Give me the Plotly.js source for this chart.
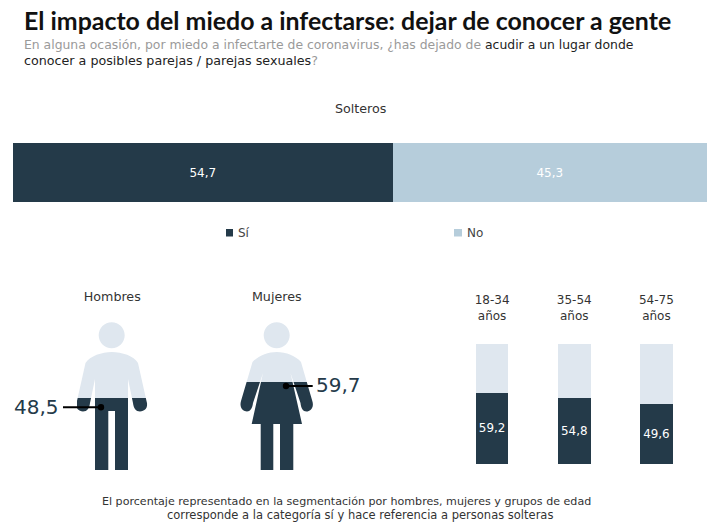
<!DOCTYPE html>
<html><head><meta charset="utf-8">
<script src="https://cdn.plot.ly/plotly-3.0.1.min.js"></script>
<style>html,body{margin:0;padding:0;background:#fff}</style></head>
<body><div id="chart" style="width:720px;height:528px"></div>
<script>
const groupMain = ['Solteros'];
const siMain = [54.7];
const noMain = [45.3];
const genders = ['Hombres', 'Mujeres'];
const siGender = [48.5, 59.7];
const ages = ['18-34<br>años', '35-54<br>años', '54-75<br>años'];
const siAges = [59.2, 54.8, 49.6];
const DARK = '#243a49', MID = '#b6cddb', PALE = '#dfe7ef', W = 720, H = 528;
const sans = '"DejaVu Sans", sans-serif', head = 'Lato, sans-serif';
const fmt = v => v.toFixed(1).replace('.', ',');
const rest = a => a.map(v => +(100 - v).toFixed(1));
const px = x => x / W, py = y => 1 - y / H;
const dx = (a, b) => [px(a), px(b)], dy = (top, bot) => [py(bot), py(top)];

// convert a silhouette written in picture pixels into paper coordinates
const P = s => s.replace(/(-?[\d.]+),(-?[\d.]+)/g, (m, a, b) => px(+a).toFixed(5) + ',' + py(+b).toFixed(5));
const circle = (c, y, r) => { const k = r * 0.5523;
  return `M ${c-r},${y} C ${c-r},${y-k} ${c-k},${y-r} ${c},${y-r} C ${c+k},${y-r} ${c+r},${y-k} ${c+r},${y} C ${c+r},${y+k} ${c+k},${y+r} ${c},${y+r} C ${c-k},${y+r} ${c-r},${y+k} ${c-r},${y} Z`; };
const frame = (l, t, r, b) => `M ${l},${t} L ${r},${t} L ${r},${b} L ${l},${b} Z`;
const man = 'M 85.5,363 C 90,356 102,352 111.7,352 C 122,352 134,356 138,363 L 146.5,401 C 149,408 144,411.5 140,411.5 C 136,411.5 133.5,408 133,403 L 128,379 L 128,473 L 115,473 L 115,411 L 108.3,411 L 108.3,473 L 95,473 L 95,379 L 90,403 C 89.5,408 87,411.5 83,411.5 C 79,411.5 74.5,408 77,401 Z';
const woman = 'M 252.5,362 C 258,356 268,352 276.7,352 C 286,352 296,356 301,362 L 312.3,401 C 314.5,408 310,411.5 306.5,411.5 C 303,411.5 301,408 300.5,403 L 290.5,373 L 302,424 L 293.3,424 L 293.3,473 L 280,473 L 280,424 L 273.3,424 L 273.3,473 L 260.7,473 L 260.7,424 L 251.7,424 L 263,373 L 253,403 C 252.5,408 250,411.5 247,411.5 C 243.5,411.5 239,408 241,401 Z';
const mask = (d, l, t, r, b) => ({type:'path', xref:'paper', yref:'paper', layer:'above', fillrule:'evenodd',
  fillcolor:'#fff', line:{width:0}, path:P(frame(l,t,r,b) + ' ' + d)});
const seg = (x0, x1, y) => ({type:'line', xref:'paper', yref:'paper', layer:'above', x0:px(x0), x1:px(x1), y0:py(y), y1:py(y), line:{color:'#000', width:2}});
const dot = (x, y, r) => ({type:'circle', xref:'paper', yref:'paper', layer:'above', x0:px(x-r), x1:px(x+r), y0:py(y+r), y1:py(y-r), fillcolor:'#000', line:{width:0}});
const box = (l, t, r, b, c) => ({type:'rect', xref:'paper', yref:'paper', x0:px(l), x1:px(r), y0:py(b), y1:py(t), fillcolor:c, line:{width:0}});
const note = (text, x, y, size, color, family, anchor) => ({text, x:px(x), y:py(y), xref:'paper', yref:'paper', showarrow:false,
  xanchor:anchor || 'left', yanchor:'middle', align:anchor === 'center' ? 'center' : 'left', font:{size, color, family}});

const labelFont = {family:sans, size:12, color:'#fff'};
const traces = [
  {type:'bar', orientation:'h', name:'Sí', y:groupMain, x:siMain, xaxis:'x', yaxis:'y', marker:{color:DARK}, text:siMain.map(fmt), textposition:'inside', insidetextanchor:'middle', textfont:labelFont, textangle:0},
  {type:'bar', orientation:'h', name:'No', y:groupMain, x:noMain, xaxis:'x', yaxis:'y', marker:{color:MID}, text:noMain.map(fmt), textposition:'inside', insidetextanchor:'middle', textfont:labelFont, textangle:0},
  {type:'bar', x:[genders[0]], y:[siGender[0]], xaxis:'x2', yaxis:'y2', marker:{color:DARK}, width:1, hoverinfo:'skip'},
  {type:'bar', x:[genders[0]], y:rest(siGender).slice(0,1), xaxis:'x2', yaxis:'y2', marker:{color:PALE}, width:1, hoverinfo:'skip'},
  {type:'bar', x:[genders[1]], y:[siGender[1]], xaxis:'x3', yaxis:'y3', marker:{color:DARK}, width:1, hoverinfo:'skip'},
  {type:'bar', x:[genders[1]], y:rest(siGender).slice(1), xaxis:'x3', yaxis:'y3', marker:{color:PALE}, width:1, hoverinfo:'skip'},
  {type:'bar', x:ages, y:siAges, xaxis:'x4', yaxis:'y4', marker:{color:DARK}, width:0.396, text:siAges.map(fmt), textposition:'inside', insidetextanchor:'middle', textfont:labelFont, textangle:0},
  {type:'bar', x:ages, y:rest(siAges), xaxis:'x4', yaxis:'y4', marker:{color:PALE}, width:0.396}
];
const hidden = {visible:false, fixedrange:true};
const topTicks = (anchor, dom, ticklen, size) => ({domain:dom, anchor, side:'top', type:'category', showgrid:false, zeroline:false, showline:false,
  ticks:'outside', ticklen, tickcolor:'rgba(0,0,0,0)', tickfont:{family:sans, size, color:'#333'}, fixedrange:true});
const layout = {
  width:W, height:H, margin:{l:0, r:0, t:0, b:0}, paper_bgcolor:'#fff', plot_bgcolor:'rgba(0,0,0,0)',
  barmode:'stack', bargap:0, showlegend:false,
  xaxis:{...hidden, domain:dx(13,707), range:[0,100], anchor:'y'},
  yaxis:{...hidden, domain:dy(143,202), type:'category', range:[-0.5,0.5], anchor:'x'},
  xaxis2:{...topTicks('y2', dx(77,147.5), 15, 12.7), range:[-0.5,0.5]},
  yaxis2:{...hidden, domain:dy(322,470), range:[0,100], anchor:'x2'},
  xaxis3:{...topTicks('y3', dx(240,313.5), 15, 12.7), range:[-0.5,0.5]},
  yaxis3:{...hidden, domain:dy(322,470), range:[0,100], anchor:'x3'},
  xaxis4:{...topTicks('y4', dx(451,697.5), 18.5, 12), range:[-0.5,2.5]},
  yaxis4:{...hidden, domain:dy(344,464), range:[0,100], anchor:'x4'},
  shapes:[
    mask(man + ' ' + circle(111.7,335.3,13), 74,320,150,474),
    mask(woman + ' ' + circle(276.7,335.3,13), 237,320,316,474),
    seg(63,101,407.3), dot(101,407.3,3.2), seg(286,312.7,386), dot(286,386,3.2),
    box(226,229,233,236.5,DARK), box(454,229,462,236.5,MID)
  ],
  annotations:[
    note('<b>El impacto del miedo a infectarse: dejar de conocer a gente</b>', 22, 20, 24.9, '#111', head),
    note('<span style="color:#9a9a9a">En alguna ocasión, por miedo a infectarte de coronavirus, ¿has dejado de </span>acudir a un lugar donde', 22, 45, 12.4, '#222', sans),
    note('conocer a posibles parejas / parejas sexuales<span style="color:#9a9a9a">?</span>', 22, 60, 12.7, '#222', sans),
    note('Solteros', 360, 109, 12.7, '#333', sans, 'center'),
    note('Sí', 236, 232.5, 12, '#444', sans),
    note('No', 465, 232.5, 12, '#444', sans),
    note('48,5', 12, 407, 20, DARK, sans),
    note('59,7', 314, 385, 20, DARK, sans),
    note('El porcentaje representado en la segmentación por hombres, mujeres y grupos de edad', 346, 501, 11.1, '#333', sans, 'center'),
    note('corresponde a la categoría sí y hace referencia a personas solteras', 359.5, 515, 11.5, '#333', sans, 'center')
  ]
};
Plotly.newPlot('chart', traces, layout, {displayModeBar:false, staticPlot:true});
</script></body></html>
